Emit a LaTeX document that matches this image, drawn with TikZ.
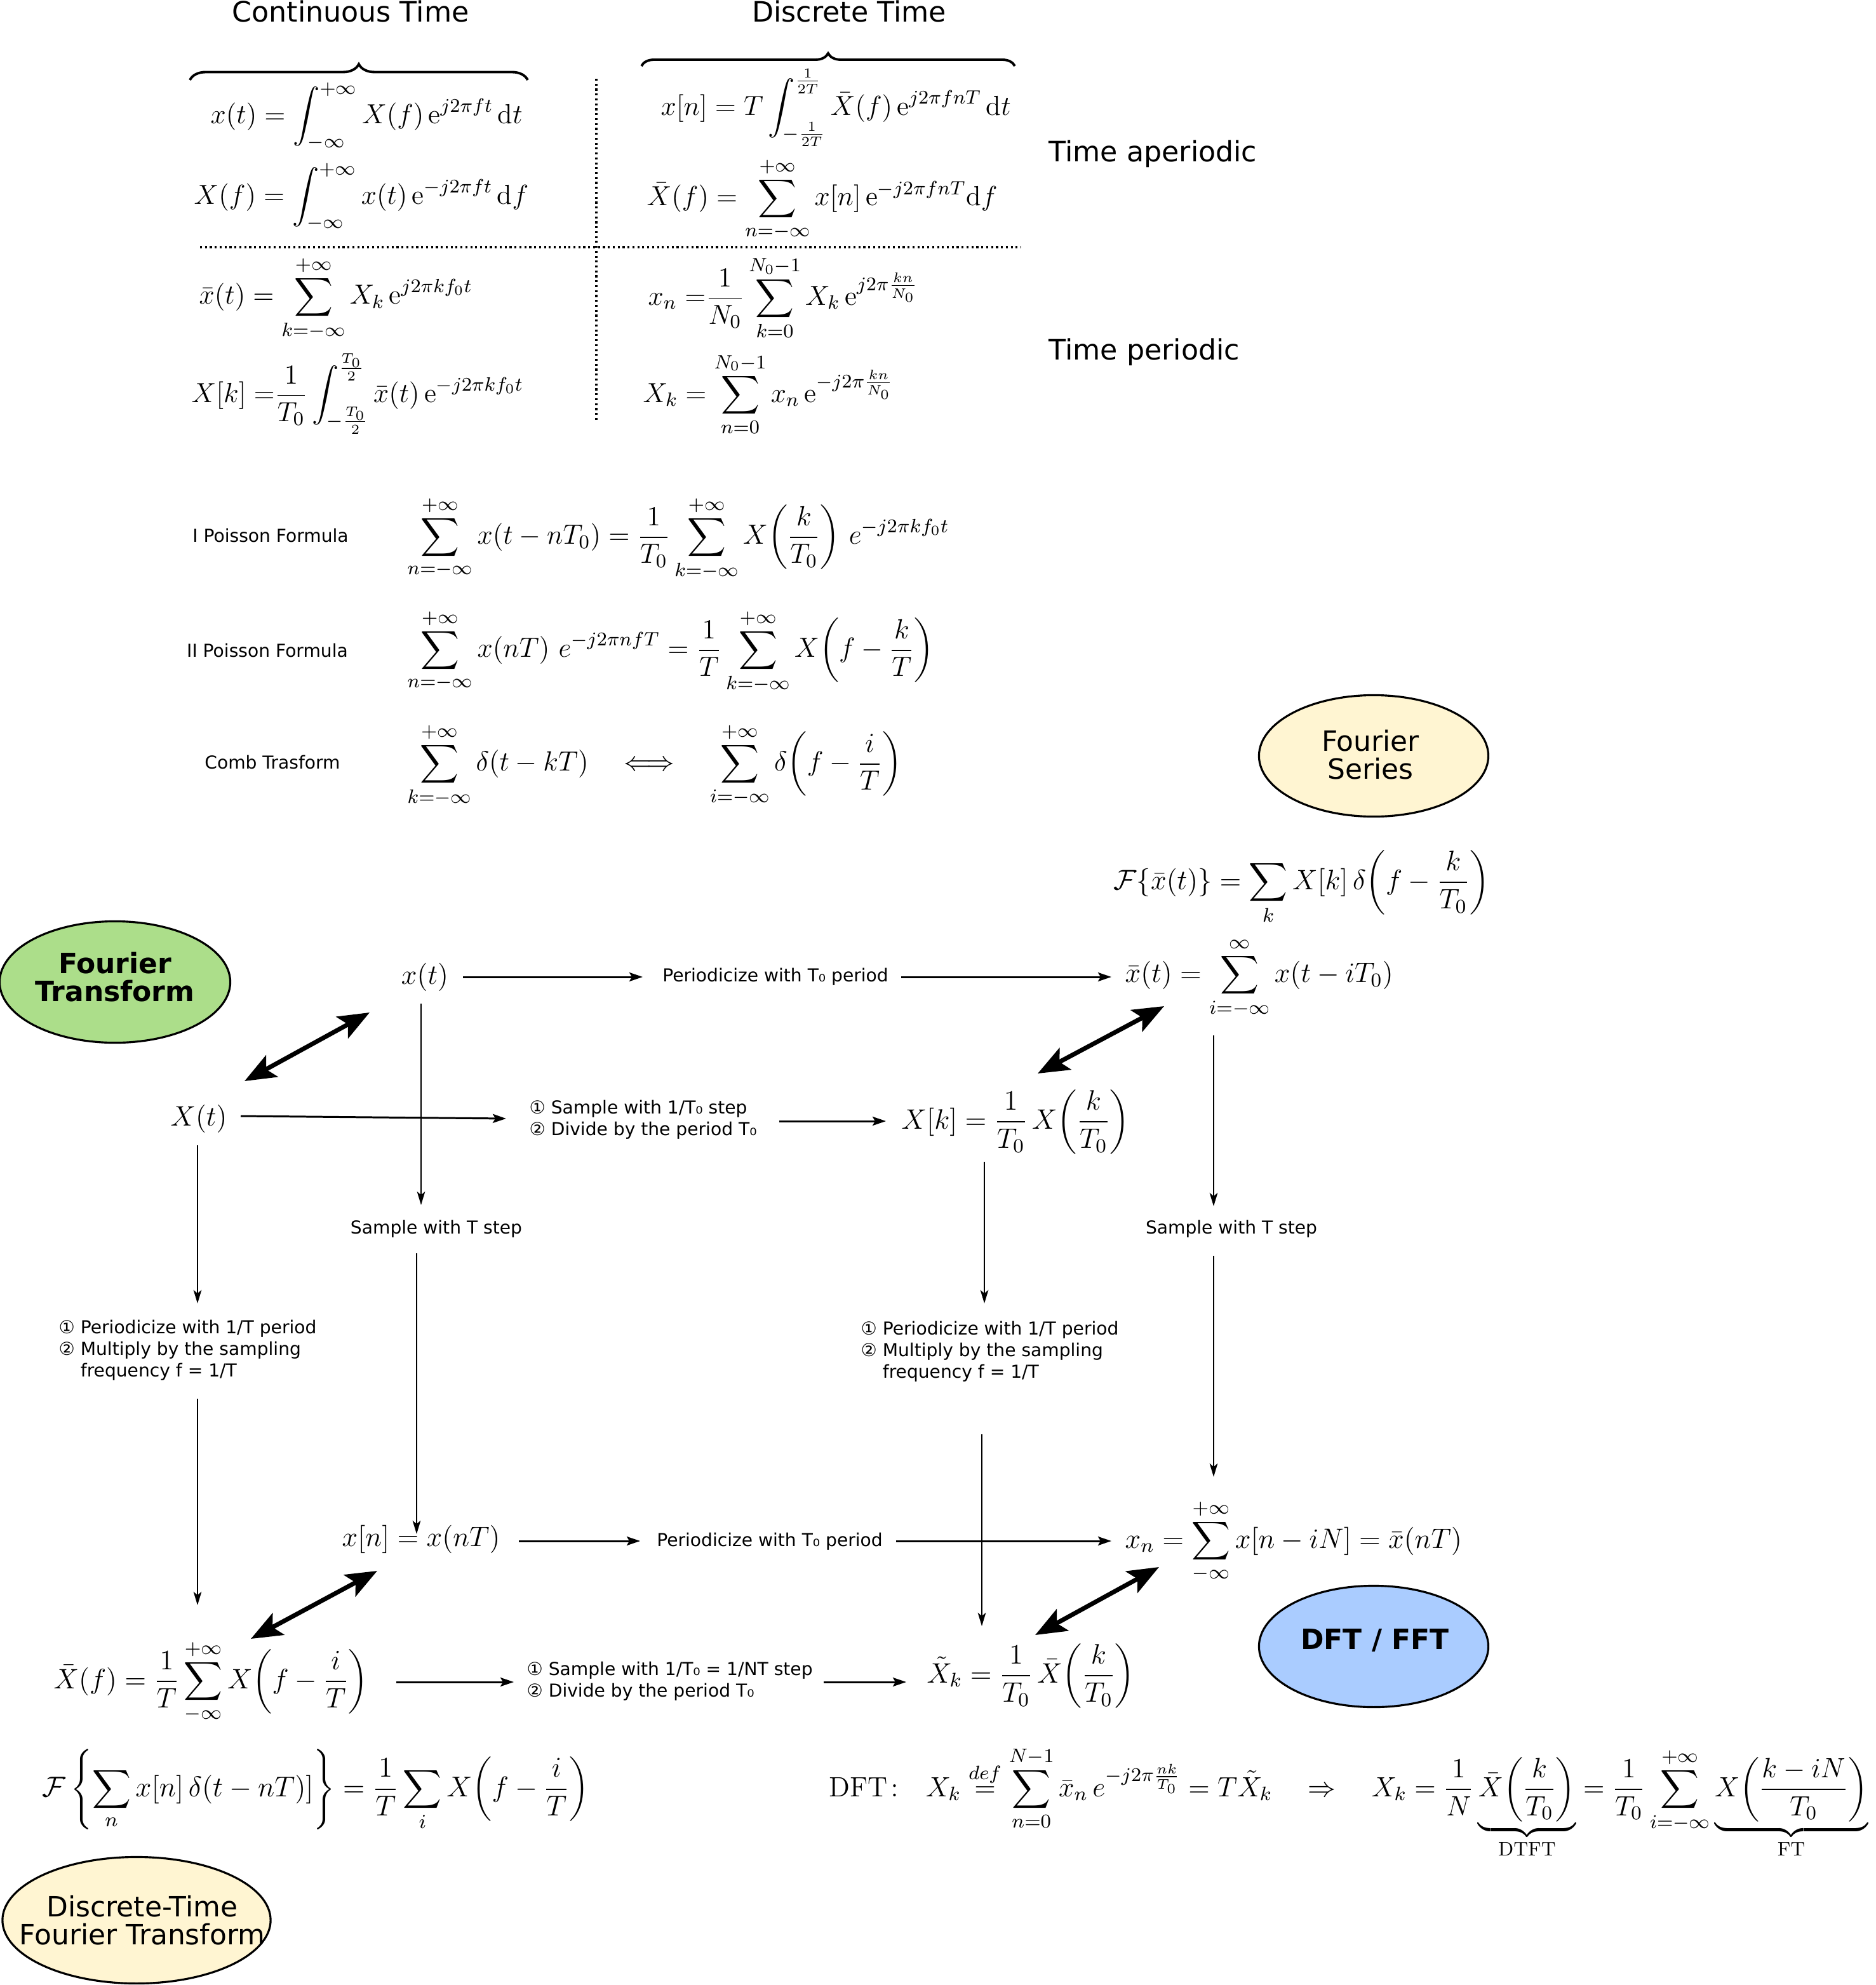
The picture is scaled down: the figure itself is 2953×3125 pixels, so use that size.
\RequirePackage{fix-cm}
\documentclass[tikz,border=0pt]{standalone}
\usepackage{amsmath}
\usepackage{fontspec}
\newfontfamily\dv{DejaVu Sans}
\usetikzlibrary{arrows.meta,shapes.geometric,decorations.pathreplacing}
\definecolor{ftgreen}{RGB}{172,222,138}
\definecolor{lyellow}{RGB}{255,245,210}
\definecolor{lblue}{RGB}{170,204,255}
\tikzset{
  mtop/.style={inner sep=0pt, font=\fontsize{12.35}{15}\selectfont},
  mt/.style={inner sep=0pt, font=\fontsize{12.6}{15}\selectfont},
  mp/.style={inner sep=0pt, font=\fontsize{12.4}{15}\selectfont},
  md/.style={inner sep=0pt, font=\fontsize{12.5}{15}\selectfont},
  mf/.style={inner sep=0pt, font=\fontsize{12.8}{15}\selectfont},
  lbl/.style={inner sep=0pt, align=left, font=\dv\fontsize{8}{9.7}\selectfont},
  hdr/.style={inner sep=0pt, font=\dv\fontsize{12.6}{15}\selectfont},
  elltxt/.style={inner sep=0pt, align=center, font=\dv\fontsize{12.5}{12.5}\selectfont},
  ellb/.style={inner sep=0pt, align=center, font=\dv\bfseries\fontsize{12.5}{12.5}\selectfont},
  ell/.style={ellipse, draw, line width=0.9pt, inner sep=0pt},
  harrow/.style={-{Stealth[length=6pt,width=4pt,inset=1.2pt]}, line width=0.85pt},
  varrow/.style={-{Stealth[length=6pt,width=3.6pt,inset=1.5pt]}, line width=0.6pt},
  dbl/.style={{Stealth[length=14pt,width=11pt,inset=3pt]}-{Stealth[length=14pt,width=11pt,inset=3pt]}, line width=2pt},
  dotln/.style={line width=0.9pt, dash pattern=on 0.9pt off 1.3pt},
  brc/.style={decorate, line width=1.1pt},
}
\begin{document}
\begin{tikzpicture}[x=0.01cm,y=-0.01cm]
\fill[white] (0,0) rectangle (2953,3125);
\useasboundingbox (0,0) rectangle (2953,3125);

% ---------- top table ----------
\node[hdr, anchor=base] (hcont) at (552,35) {Continuous Time};
\node[hdr, anchor=base] (hdisc) at (1337,35) {Discrete Time};
\coordinate (bc1) at (299,126); \coordinate (bc2) at (831,126);
\coordinate (bd1) at (1010,104); \coordinate (bd2) at (1598,104);
\draw[brc, decoration={brace, amplitude=0.25cm}] (bc1) -- (bc2);
\draw[brc, decoration={brace, amplitude=0.2cm}] (bd1) -- (bd2);
\coordinate (dv1) at (939,124); \coordinate (dv2) at (939,662);
\coordinate (dh1) at (315,389); \coordinate (dh2) at (1608,389);
\draw[dotln] (dv1) -- (dv2);
\draw[dotln] (dh1) -- (dh2);

\node[mtop, anchor=west] (t1) at (331,183) {$\displaystyle x(t)=\int_{-\infty}^{+\infty}X(f)\,\mathrm{e}^{j2\pi ft}\,\mathrm{d}t$};
\node[mtop, anchor=west] (t2) at (305,310) {$\displaystyle X(f)=\int_{-\infty}^{+\infty}x(t)\,\mathrm{e}^{-j2\pi ft}\,\mathrm{d}f$};
\node[mtop, anchor=west] (t3) at (313,470) {$\displaystyle \bar{x}(t)=\sum_{k=-\infty}^{+\infty}X_k\,\mathrm{e}^{j2\pi kf_0t}$};
\node[mtop, anchor=west] (t4) at (301,620) {$\displaystyle X[k]\;{=}\frac{1}{T_0}\int_{-\frac{T_0}{2}}^{\frac{T_0}{2}}\bar{x}(t)\,\mathrm{e}^{-j2\pi kf_0t}$};
\node[mtop, anchor=west] (t5) at (1040,170) {$\displaystyle x[n]=T\int_{-\frac{1}{2T}}^{\frac{1}{2T}}\bar{X}(f)\,\mathrm{e}^{j2\pi fnT}\,\mathrm{d}t$};
\node[mtop, anchor=west] (t6) at (1018,314) {$\displaystyle \bar{X}(f)=\sum_{n=-\infty}^{+\infty}x[n]\,\mathrm{e}^{-j2\pi fnT}\mathrm{d}f$};
\node[mtop, anchor=west] (t7) at (1020,469) {$\displaystyle x_n\;{=}\frac{1}{N_0}\sum_{k=0}^{N_0-1}X_k\,\mathrm{e}^{j2\pi\frac{kn}{N_0}}$};
\node[mtop, anchor=west] (t8) at (1012,621) {$\displaystyle X_k=\sum_{n=0}^{N_0-1}x_n\,\mathrm{e}^{-j2\pi\frac{kn}{N_0}}$};

\node[hdr, anchor=base west] (hap) at (1651,255) {Time aperiodic};
\node[hdr, anchor=base west] (hp) at (1651,567) {Time periodic};

% ---------- Poisson ----------
\node[lbl] (p1l) at (426,843) {I Poisson Formula};
\node[lbl] (p2l) at (421,1024) {II Poisson Formula};
\node[lbl] (p3l) at (429,1200) {Comb Trasform};
\node[mp, anchor=west] (p1) at (641,848) {$\displaystyle\sum_{n=-\infty}^{+\infty}x(t-nT_0)=\frac{1}{T_0}\sum_{k=-\infty}^{+\infty}X{\left(\frac{k}{T_0}\right)}\ e^{-j2\pi kf_0t}$};
\node[mp, anchor=west] (p2) at (641,1026) {$\displaystyle\sum_{n=-\infty}^{+\infty}x(nT)\ e^{-j2\pi nfT}=\frac{1}{T}\sum_{k=-\infty}^{+\infty}X{\left(f-\frac{k}{T}\right)}$};
\node[mp, anchor=west] (p3) at (641,1205) {$\displaystyle\sum_{k=-\infty}^{+\infty}\delta(t-kT)\quad\Longleftrightarrow\quad\sum_{i=-\infty}^{+\infty}\delta{\left(f-\frac{i}{T}\right)}$};

% ---------- ellipses ----------
\node[ell, fill=lyellow, minimum width=3.61cm, minimum height=1.91cm] (fs) at (2163,1190) {};
\node[elltxt] (fstxt) at (2158,1188) {Fourier\\Series};
\node[ell, fill=ftgreen, minimum width=3.63cm, minimum height=1.91cm] (ft) at (181,1546) {};
\node[ellb] (fttxt) at (181,1538) {Fourier\\Transform};
\node[ell, fill=lblue, minimum width=3.61cm, minimum height=1.91cm] (dft) at (2163,2592) {};
\node[ellb] (dfttxt) at (2165,2582) {DFT / FFT};
\node[ell, fill=lyellow, minimum width=4.22cm, minimum height=1.99cm] (dtft) at (215,3023) {};
\node[elltxt] (dtfttxt) at (224,3023) {Discrete-Time\\Fourier Transform};

% ---------- diagram nodes ----------
\node[mt, anchor=west] (fseq) at (1753,1397) {$\displaystyle\mathcal{F}\{\bar{x}(t)\}=\sum_k X[k]\,\delta{\left(f-\frac{k}{T_0}\right)}$};
\node[mt] (xt) at (669,1538) {$x(t)$};
\node[lbl] (lp1) at (1221,1538) {Periodicize with T₀ period};
\node[mt, anchor=west] (xbar) at (1771,1540) {$\displaystyle\bar{x}(t)=\sum_{i=-\infty}^{\infty}x(t-iT_0)$};
\node[mt] (Xt) at (313,1761) {$X(t)$};
\node[lbl, anchor=west] (ls1) at (833,1763) {① Sample with 1/T₀ step\\② Divide by the period T₀};
\node[mt, anchor=west] (Xk) at (1419,1766) {$\displaystyle X[k]=\frac{1}{T_0}\,X{\left(\frac{k}{T_0}\right)}$};
\node[lbl] (st1) at (687,1935) {Sample with T step};
\node[lbl] (st2) at (1939,1935) {Sample with T step};
\node[lbl, anchor=west] (lm1) at (92,2126) {① Periodicize with 1/T period\\② Multiply by the sampling\\\hphantom{① }frequency f = 1/T};
\node[lbl, anchor=west] (lm2) at (1355,2128) {① Periodicize with 1/T period\\② Multiply by the sampling\\\hphantom{① }frequency f = 1/T};
\node[mt, anchor=west] (xnT) at (538,2423) {$x[n]=x(nT)$};
\node[lbl] (lp2) at (1212,2427) {Periodicize with T₀ period};
\node[mt, anchor=west] (xnn) at (1771,2427) {$\displaystyle x_n=\sum_{-\infty}^{+\infty}x[n-iN]=\bar{x}(nT)$};
\node[mt, anchor=west] (Xbf) at (84,2648) {$\displaystyle\bar{X}(f)=\frac{1}{T}\sum_{-\infty}^{+\infty}X{\left(f-\frac{i}{T}\right)}$};
\node[lbl, anchor=west] (ls2) at (829,2647) {① Sample with 1/T₀ = 1/NT step\\② Divide by the period T₀};
\node[mt, anchor=west] (Xtil) at (1459,2638) {$\displaystyle\tilde{X}_k=\frac{1}{T_0}\,\bar{X}{\left(\frac{k}{T_0}\right)}$};
\node[mf, anchor=west] (fsum) at (66,2818) {$\displaystyle\mathcal{F}\left\{\sum_n x[n]\,\delta(t-nT)]\right\}=\frac{1}{T}\sum_i X{\left(f-\frac{i}{T}\right)}$};
\node[md, anchor=base west] (dfteq) at (1305,2828) {$\displaystyle\mathrm{DFT}\colon\ \ X_k\overset{def}{=}\sum_{n=0}^{N-1}\bar{x}_n\,e^{-j2\pi\frac{nk}{T_0}}=T\tilde{X}_k\quad\Rightarrow\quad X_k=\frac{1}{N}\underbrace{\bar{X}{\left(\frac{k}{T_0}\right)}}_{\mathrm{DTFT}}=\frac{1}{T_0}\sum_{i=-\infty}^{+\infty}\underbrace{X{\left(\frac{k-iN}{T_0}\right)}}_{\mathrm{FT}}$};

% ---------- horizontal arrows ----------
\draw[harrow] ([shift={(60,0)}]xt.center) -- ([shift={(-209,0)}]lp1.center);
\draw[harrow] ([shift={(198,0)}]lp1.center) -- ([shift={(-21,-2)}]xbar.west);
\draw[harrow] ([shift={(66,-4)}]Xt.center) -- ([shift={(-36,-2)}]ls1.west);
\draw[harrow] ([shift={(394,2)}]ls1.west) -- ([shift={(-24,-1)}]Xk.west);
\draw[harrow] ([shift={(279,3)}]xnT.west) -- ([shift={(-204,-1)}]lp2.center);
\draw[harrow] ([shift={(199,-1)}]lp2.center) -- ([shift={(-21,-1)}]xnn.west);
\draw[harrow] ([shift={(540,0)}]Xbf.west) -- ([shift={(-20,1)}]ls2.west);
\draw[harrow] ([shift={(468,1)}]ls2.west) -- ([shift={(-32,10)}]Xtil.west);

% ---------- vertical arrows ----------
\draw[varrow] ([shift={(-6,42)}]xt.center) -- ([shift={(-24,-38)}]st1.center);
\draw[varrow] ([shift={(-31,38)}]st1.center) -- ([shift={(118,-8)}]xnT.west);
\draw[varrow] ([shift={(-2,42)}]Xt.center) -- ([shift={(219,-74)}]lm1.west);
\draw[varrow] ([shift={(219,76)}]lm1.west) -- ([shift={(227,-121)}]Xbf.west);
\draw[varrow] ([shift={(131,63)}]Xk.west) -- ([shift={(195,-76)}]lm2.west);
\draw[varrow] ([shift={(191,130)}]lm2.west) -- ([shift={(87,-78)}]Xtil.west);
\draw[varrow] ([shift={(140,90)}]xbar.west) -- ([shift={(-28,-36)}]st2.center);
\draw[varrow] ([shift={(-28,42)}]st2.center) -- ([shift={(140,-102)}]xnn.west);

% ---------- thick double arrows ----------
\draw[dbl] ([shift={(72,-59)}]Xt.center) -- ([shift={(-87,56)}]xt.center);
\draw[dbl] ([shift={(215,-76)}]Xk.west) -- ([shift={(62,44)}]xbar.west);
\draw[dbl] ([shift={(311,-68)}]Xbf.west) -- ([shift={(56,50)}]xnT.west);
\draw[dbl] ([shift={(171,-64)}]Xtil.west) -- ([shift={(54,40)}]xnn.west);
\end{tikzpicture}
\end{document}
